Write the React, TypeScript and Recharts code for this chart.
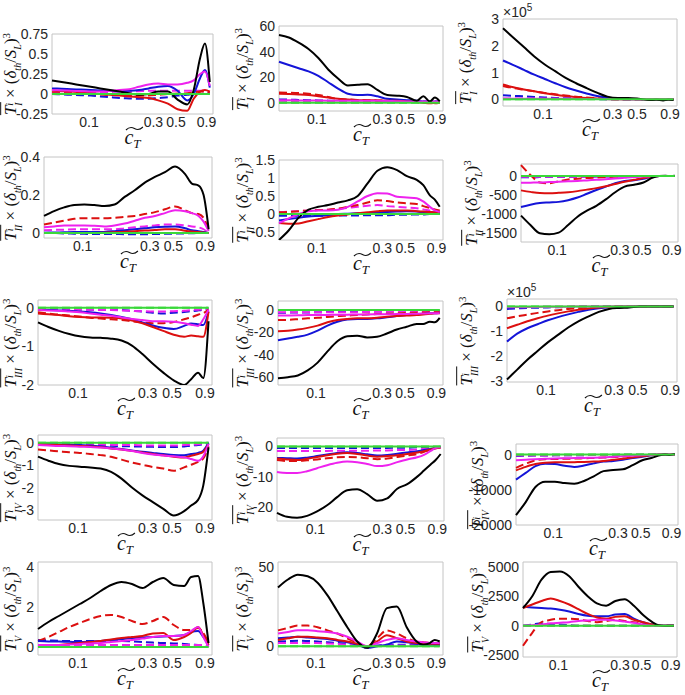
import React from "react";
import { LineChart, Line, XAxis, YAxis, ReferenceArea } from "recharts";

// position along the flame brush (0..1) and the c_T labels marked on it
const CT = [0, 0.06, 0.12, 0.18, 0.24, 0.3, 0.36, 0.42, 0.48, 0.54, 0.6, 0.66, 0.72, 0.78, 0.84, 0.88, 0.92, 0.95, 0.98];
const CT_TICKS = [0.23, 0.63, 0.77, 0.96];
const CT_LABELS = ["0.1", "0.3", "0.5", "0.9"];
const ZERO = [0, 0, 0, 0, 0, 0, 0, 0, 0, 0, 0, 0, 0, 0, 0, 0, 0, 0, 0];

// row I
const T1a = {
  k: [0.17, 0.15, 0.13, 0.11, 0.09, 0.07, 0.05, 0.03, 0.01, -0.01, 0, 0.03, 0.03, -0.07, -0.13, 0.05, 0.45, 0.63, 0.15],
  b: [0.07, 0.065, 0.06, 0.055, 0.05, 0.045, 0.04, 0.035, 0.04, 0.05, 0.07, 0.09, 0.1, 0.04, -0.08, 0, 0.2, 0.3, 0.08],
  r: [0.04, 0.035, 0.03, 0.02, 0.01, 0, -0.01, -0.02, -0.03, -0.04, -0.05, -0.08, -0.12, -0.19, -0.21, -0.06, 0.03, 0.05, 0.03],
  m: [0.05, 0.045, 0.04, 0.035, 0.03, 0.03, 0.04, 0.05, 0.06, 0.09, 0.12, 0.13, 0.12, 0.12, 0.14, 0.17, 0.25, 0.28, 0.1],
  rd: [0.01, 0.01, 0.005, 0, 0, -0.005, -0.01, -0.01, -0.015, -0.02, -0.02, -0.01, 0, 0.005, 0.01, 0.02, 0.03, 0.03, 0.02],
  bd: [0, -0.005, -0.01, -0.015, -0.02, -0.03, -0.04, -0.05, -0.055, -0.06, -0.06, -0.05, -0.04, -0.02, -0.01, 0, 0, 0.01, 0.01],
  md: [0.02, 0.02, 0.02, 0.02, 0.02, 0.02, 0.025, 0.03, 0.03, 0.035, 0.04, 0.04, 0.04, 0.04, 0.04, 0.04, 0.04, 0.04, 0.03],
};
const T1b = {
  k: [53, 51, 47, 42, 35, 26, 19, 13.5, 14, 14.5, 10, 6, 5.5, 4.5, 1.5, 5, 1, 4, 1],
  b: [32, 29.5, 27, 24.5, 21, 16, 11, 7, 6, 6.2, 5, 3, 2.5, 2, 1.5, 1, 1, 1, 1],
  r: [7, 6.8, 6.5, 6, 5, 4, 3, 2.5, 2, 2, 1.8, 1.5, 1.5, 1, 0.5, 0, -0.5, 0, 0.5],
  m: [2, 2, 1.8, 1.8, 1.7, 1.6, 1.5, 1.5, 1.5, 1.5, 1.5, 1.3, 1.2, 1, 1, 1, 1, 1, 1],
  rd: [8, 7.8, 7.5, 7, 6, 4.5, 3, 2.5, 2.2, 2, 1.8, 1.5, 1.2, 1, 0.8, 0.5, 0, -0.5, 0],
  bd: [2.5, 2.4, 2.2, 2, 1.8, 1.6, 1.5, 1.5, 1.5, 1.4, 1.3, 1.2, 1.1, 1, 1, 1, 1, 1, 1],
  md: [1.5, 1.4, 1.3, 1.2, 1.1, 1, 1, 1, 1, 1, 1, 1, 0.8, 0.8, 0.6, 0.5, 0.5, 0.5, 0.5],
};
const T1c = {
  k: [2.65, 2.3, 1.95, 1.6, 1.3, 1.05, 0.8, 0.6, 0.42, 0.25, 0.1, 0.05, 0.05, 0.02, -0.03, -0.02, -0.04, -0.02, -0.03],
  b: [1.45, 1.28, 1.1, 0.92, 0.76, 0.6, 0.45, 0.33, 0.22, 0.12, 0.06, 0.02, 0, 0, 0, 0, 0, 0, 0],
  r: [0.55, 0.45, 0.37, 0.3, 0.23, 0.17, 0.12, 0.08, 0.05, 0.03, 0.01, 0, 0, 0, 0, 0, 0, 0, 0],
  m: [0.02, 0.02, 0.02, 0.02, 0.02, 0.02, 0.02, 0.015, 0.01, 0.01, 0.005, 0, 0, 0, 0, 0, 0, 0, 0],
  rd: [0.5, 0.42, 0.36, 0.3, 0.24, 0.19, 0.14, 0.1, 0.07, 0.04, 0.02, 0, 0, 0, 0, 0, 0, 0, 0],
  bd: [0.15, 0.13, 0.11, 0.09, 0.07, 0.05, 0.04, 0.03, 0.02, 0.01, 0, 0, 0, 0, 0, 0, 0, 0, 0],
  md: [0.03, 0.03, 0.03, 0.03, 0.025, 0.02, 0.02, 0.015, 0.01, 0.01, 0.005, 0, 0, 0, 0, 0, 0, 0, 0],
};

// row II
const T2a = {
  k: [0.09, 0.115, 0.135, 0.148, 0.15, 0.147, 0.142, 0.15, 0.19, 0.225, 0.265, 0.295, 0.32, 0.35, 0.31, 0.26, 0.25, 0.2, 0.02],
  b: [0.002, 0.003, 0.004, 0.005, 0.005, 0.005, 0.006, 0.01, 0.015, 0.02, 0.025, 0.03, 0.033, 0.035, 0.025, 0.015, 0.01, 0.005, 0],
  r: [0, 0, 0, 0, 0, 0, 0.002, 0.004, 0.007, 0.01, 0.013, 0.016, 0.02, 0.02, 0.012, 0.008, 0.005, 0.003, 0],
  m: [0.03, 0.035, 0.04, 0.04, 0.04, 0.038, 0.035, 0.04, 0.05, 0.065, 0.08, 0.09, 0.105, 0.12, 0.115, 0.105, 0.09, 0.06, 0.01],
  rd: [0.045, 0.055, 0.065, 0.075, 0.078, 0.078, 0.078, 0.08, 0.085, 0.09, 0.1, 0.11, 0.125, 0.14, 0.12, 0.105, 0.1, 0.08, 0.01],
  bd: [0, 0, -0.002, -0.003, -0.004, -0.005, -0.005, -0.005, -0.006, -0.006, -0.006, -0.005, -0.004, -0.003, -0.002, -0.001, 0, 0, 0],
  md: [0.015, 0.017, 0.018, 0.02, 0.02, 0.02, 0.02, 0.02, 0.025, 0.03, 0.035, 0.04, 0.045, 0.045, 0.04, 0.035, 0.03, 0.02, 0],
};
const T2b = {
  k: [-0.72, -0.45, -0.1, 0.12, 0.2, 0.25, 0.32, 0.38, 0.5, 0.85, 1.2, 1.3, 1.22, 1.05, 0.95, 0.8, 0.52, 0.4, 0.2],
  b: [-0.18, -0.14, -0.1, -0.07, -0.05, -0.03, 0, 0.01, 0.02, 0.03, 0.05, 0.06, 0.07, 0.08, 0.07, 0.05, 0.04, 0.04, 0.04],
  r: [-0.25, -0.27, -0.26, -0.2, -0.14, -0.08, -0.04, -0.01, 0.02, 0.05, 0.08, 0.1, 0.1, 0.1, 0.08, 0.07, 0.06, 0.05, 0.05],
  m: [-0.25, -0.12, 0, 0.08, 0.1, 0.1, 0.12, 0.2, 0.35, 0.5, 0.58, 0.57, 0.48, 0.46, 0.44, 0.35, 0.2, 0.1, 0.06],
  rd: [0.05, 0.06, 0.08, 0.1, 0.11, 0.12, 0.15, 0.2, 0.25, 0.32, 0.38, 0.36, 0.32, 0.3, 0.28, 0.22, 0.17, 0.13, 0.1],
  bd: [-0.05, -0.05, -0.05, -0.05, -0.05, -0.05, -0.04, -0.04, -0.04, -0.03, -0.03, -0.03, -0.02, -0.02, -0.01, -0.01, 0, 0, 0],
  md: [0.05, 0.07, 0.08, 0.1, 0.11, 0.12, 0.14, 0.17, 0.2, 0.23, 0.25, 0.22, 0.2, 0.18, 0.16, 0.13, 0.1, 0.09, 0.08],
};
const T2c = {
  k: [-1050, -1300, -1520, -1545, -1500, -1300, -1080, -920, -790, -620, -430, -280, -230, -170, -40, 0, 10, 0, 10],
  b: [-820, -760, -715, -700, -685, -640, -570, -470, -370, -280, -190, -130, -110, -70, -10, 0, 0, 0, 0],
  r: [-380, -420, -450, -455, -445, -430, -400, -360, -320, -270, -210, -150, -100, -50, -10, 0, 0, 0, 0],
  m: [-180, -175, -170, -160, -150, -140, -130, -115, -100, -85, -65, -45, -25, -15, -5, 0, 0, 0, 0],
  rd: [290, 30, -170, -190, -140, -90, -70, -50, -40, -30, -20, -10, -5, 0, 0, 0, 0, 0, 0],
  bd: [-30, -30, -28, -26, -24, -22, -20, -18, -15, -12, -10, -8, -6, -4, -2, 0, 0, 0, 0],
  md: [-20, -20, -20, -20, -20, -20, -18, -16, -14, -12, -10, -8, -6, -4, -2, 0, 0, 0, 0],
};

// row III
const T3a = {
  k: [-0.38, -0.5, -0.6, -0.68, -0.74, -0.77, -0.78, -0.8, -0.85, -0.98, -1.2, -1.45, -1.68, -1.88, -2.0, -1.85, -1.68, -1.82, -0.35],
  b: [-0.05, -0.06, -0.07, -0.08, -0.1, -0.12, -0.15, -0.19, -0.24, -0.3, -0.38, -0.46, -0.52, -0.55, -0.47, -0.41, -0.43, -0.45, -0.1],
  r: [-0.15, -0.17, -0.19, -0.22, -0.24, -0.25, -0.25, -0.26, -0.28, -0.33, -0.4, -0.5, -0.6, -0.7, -0.75, -0.72, -0.74, -0.75, -0.1],
  m: [-0.05, -0.07, -0.08, -0.1, -0.12, -0.15, -0.18, -0.21, -0.25, -0.29, -0.32, -0.35, -0.35, -0.36, -0.4, -0.44, -0.47, -0.3, -0.05],
  rd: [-0.12, -0.15, -0.18, -0.2, -0.23, -0.26, -0.28, -0.3, -0.32, -0.35, -0.38, -0.4, -0.4, -0.37, -0.3, -0.25, -0.18, -0.14, -0.05],
  bd: [-0.02, -0.03, -0.03, -0.04, -0.04, -0.05, -0.05, -0.05, -0.06, -0.08, -0.1, -0.13, -0.15, -0.13, -0.11, -0.09, -0.07, -0.05, -0.02],
  md: [-0.02, -0.03, -0.04, -0.05, -0.05, -0.05, -0.06, -0.06, -0.07, -0.08, -0.09, -0.1, -0.1, -0.09, -0.08, -0.06, -0.05, -0.04, -0.02],
};
const T3b = {
  k: [-61, -60, -58.5, -54, -47, -37, -28, -23.5, -23, -24.5, -24, -21, -17.5, -15, -12.5, -12.5, -10.5, -11, -7],
  b: [-27, -25.5, -24, -22, -18.5, -14, -10.5, -8.5, -8, -8, -7.5, -6.5, -5.5, -4.5, -4, -3.5, -3, -3, -2.5],
  r: [-19, -18.5, -17.5, -16, -14, -11, -9, -8, -7.5, -7.5, -7, -6, -5.5, -5, -4.5, -4, -3.5, -3, -3],
  m: [-5, -4.9, -4.8, -4.6, -4.5, -4.4, -4.3, -4.2, -4.1, -4, -3.9, -3.8, -3.7, -3.5, -3.4, -3.2, -3, -3, -3],
  rd: [-9, -8.8, -8.2, -7.5, -7, -6.2, -5.5, -5, -4.5, -4, -3.7, -3.3, -3, -2.8, -2.5, -2.3, -2, -2, -2],
  bd: [-2.5, -2.4, -2.3, -2.2, -2, -1.9, -1.8, -1.7, -1.6, -1.5, -1.4, -1.3, -1.2, -1.1, -1, -1, -1, -1, -1],
  md: [-2, -2, -2, -2, -2, -2, -2, -2, -2, -1.8, -1.7, -1.5, -1.4, -1.3, -1.2, -1.1, -1, -1, -1],
};
const T3c = {
  k: [-2.95, -2.55, -2.15, -1.8, -1.45, -1.15, -0.85, -0.6, -0.4, -0.22, -0.1, -0.06, -0.04, 0, 0, 0, 0, 0, 0],
  b: [-1.42, -1.1, -0.88, -0.72, -0.56, -0.43, -0.32, -0.22, -0.13, -0.07, -0.03, -0.01, 0, 0, 0, 0, 0, 0, 0],
  r: [-0.88, -0.74, -0.6, -0.48, -0.37, -0.28, -0.2, -0.13, -0.08, -0.04, -0.02, 0, 0, 0, 0, 0, 0, 0, 0],
  m: [-0.02, -0.02, -0.02, -0.02, -0.015, -0.01, -0.01, -0.005, 0, 0, 0, 0, 0, 0, 0, 0, 0, 0, 0],
  rd: [-0.48, -0.4, -0.33, -0.26, -0.2, -0.15, -0.1, -0.07, -0.04, -0.02, -0.01, 0, 0, 0, 0, 0, 0, 0, 0],
  bd: [-0.1, -0.08, -0.06, -0.05, -0.04, -0.03, -0.02, -0.01, 0, 0, 0, 0, 0, 0, 0, 0, 0, 0, 0],
  md: [-0.03, -0.03, -0.03, -0.025, -0.02, -0.02, -0.015, -0.01, -0.005, 0, 0, 0, 0, 0, 0, 0, 0, 0, 0],
};

// row IV
const T4a = {
  k: [-0.62, -0.8, -0.95, -1.03, -1.07, -1.1, -1.15, -1.3, -1.6, -2.0, -2.35, -2.65, -2.95, -3.25, -3.05, -2.8, -2.55, -1.9, -0.2],
  b: [-0.03, -0.05, -0.07, -0.08, -0.1, -0.12, -0.16, -0.22, -0.28, -0.34, -0.4, -0.45, -0.5, -0.54, -0.55, -0.5, -0.45, -0.35, 0],
  r: [-0.05, -0.07, -0.1, -0.12, -0.14, -0.16, -0.2, -0.25, -0.3, -0.36, -0.43, -0.5, -0.56, -0.62, -0.66, -0.58, -0.5, -0.4, -0.05],
  m: [-0.1, -0.12, -0.14, -0.15, -0.17, -0.19, -0.21, -0.25, -0.3, -0.37, -0.45, -0.52, -0.57, -0.6, -0.65, -0.72, -0.8, -0.6, -0.05],
  rd: [-0.3, -0.34, -0.38, -0.42, -0.45, -0.5, -0.55, -0.62, -0.75, -0.88, -0.98, -1.08, -1.15, -1.25, -1.1, -0.98, -0.85, -0.7, -0.15],
  bd: [-0.05, -0.06, -0.07, -0.08, -0.09, -0.1, -0.12, -0.13, -0.15, -0.16, -0.17, -0.18, -0.19, -0.19, -0.16, -0.12, -0.1, -0.06, 0],
  md: [-0.02, -0.03, -0.04, -0.05, -0.06, -0.07, -0.08, -0.09, -0.1, -0.1, -0.11, -0.12, -0.12, -0.12, -0.1, -0.08, -0.06, -0.04, 0],
};
const T4b = {
  k: [-22, -23.3, -23.6, -23, -21.5, -19.5, -16.8, -14.5, -14.2, -15.8, -18, -17.2, -14, -12.5, -10, -8, -6, -4.5, -2.5],
  b: [-3.8, -3.9, -4, -3.7, -3.2, -2.7, -2.2, -1.9, -2.2, -2.6, -3, -2.8, -2.4, -2, -1.6, -1.2, -0.8, -0.5, -0.3],
  r: [-4, -4.3, -4.5, -4.1, -3.5, -2.9, -2.4, -2.2, -2.5, -3, -3.4, -3.2, -2.9, -2.5, -2, -1.6, -1, -0.6, -0.4],
  m: [-8.5, -8.8, -8.8, -8.2, -7.2, -6.2, -5.4, -5, -5.2, -5.8, -6.5, -6.2, -5.2, -4.3, -3.6, -2.8, -1.5, -0.5, -0.3],
  rd: [-4.5, -4.8, -4.8, -4.6, -4.3, -3.9, -3.6, -3.5, -3.6, -3.9, -4.2, -4, -3.5, -3, -2.5, -1.8, -1, -0.6, -0.4],
  bd: [-0.5, -0.5, -0.5, -0.5, -0.5, -0.5, -0.5, -0.5, -0.5, -0.5, -0.5, -0.5, -0.4, -0.4, -0.3, -0.3, -0.2, -0.2, -0.1],
  md: [-1.5, -1.5, -1.5, -1.5, -1.5, -1.5, -1.4, -1.4, -1.4, -1.4, -1.3, -1.3, -1.2, -1.2, -1, -0.8, -0.5, -0.4, -0.3],
};
const T4c = {
  k: [-17200, -13500, -9200, -7700, -7700, -8100, -8300, -7500, -6200, -4700, -4400, -4200, -3000, -1600, -900, -300, 0, -100, 200],
  b: [-7100, -5200, -3300, -2600, -2700, -3200, -3500, -3100, -2500, -2000, -1800, -1500, -1000, -600, -200, 0, 0, 0, 0],
  r: [-4500, -3500, -2700, -2300, -2200, -2200, -2150, -2100, -2000, -1800, -1500, -1200, -800, -500, -150, 0, 0, 0, 0],
  m: [-1600, -1450, -1300, -1200, -1100, -1050, -1000, -950, -900, -800, -650, -500, -350, -200, -50, 0, 0, 0, 0],
  rd: [-3800, -2600, -1600, -1300, -1250, -1200, -1150, -1050, -950, -850, -700, -550, -400, -250, -50, 0, 0, 0, 0],
  bd: [-400, -350, -300, -260, -230, -200, -180, -160, -140, -120, -100, -80, -60, -40, -20, 0, 0, 0, 0],
  md: [-300, -280, -260, -240, -220, -200, -180, -160, -140, -120, -100, -80, -60, -40, -20, 0, 0, 0, 0],
};

// row V
const T5a = {
  k: [0.9, 1.25, 1.55, 1.85, 2.15, 2.45, 2.8, 3.1, 3.25, 3.15, 2.95, 3.25, 3.45, 3.1, 3.05, 3.5, 3.55, 2.2, 0.2],
  b: [0.3, 0.28, 0.27, 0.26, 0.25, 0.27, 0.3, 0.35, 0.4, 0.45, 0.47, 0.5, 0.52, 0.55, 0.6, 0.75, 0.8, 0.5, 0.1],
  r: [0, 0.05, 0.1, 0.15, 0.2, 0.25, 0.3, 0.38, 0.45, 0.5, 0.55, 0.68, 0.7, 0.35, 0.5, 0.7, 1.0, 0.6, 0.1],
  m: [0.1, 0.1, 0.1, 0.12, 0.15, 0.18, 0.2, 0.25, 0.3, 0.35, 0.42, 0.5, 0.55, 0.55, 0.6, 0.8, 1.0, 0.5, 0],
  rd: [0.3, 0.5, 0.75, 1.0, 1.2, 1.4, 1.55, 1.6, 1.5, 1.3, 1.15, 1.3, 1.5, 1.1, 0.85, 0.85, 0.95, 0.7, 0.2],
  bd: [0.35, 0.33, 0.31, 0.3, 0.3, 0.3, 0.3, 0.3, 0.3, 0.28, 0.25, 0.22, 0.2, 0.18, 0.15, 0.12, 0.1, 0.08, 0.05],
  md: [0.1, 0.1, 0.1, 0.1, 0.1, 0.1, 0.1, 0.1, 0.1, 0.1, 0.1, 0.1, 0.1, 0.1, 0.1, 0.1, 0.1, 0.1, 0.05],
};
const T5b = {
  k: [37, 42, 45, 44, 40, 32, 22, 12, 3, -1, 8, 24, 25, 12, 3, 1, 2, 4, 3],
  b: [5, 5.5, 6, 5.5, 5, 4.5, 3.5, 2.5, 1, -1, 0, 1, 3, 2.5, 1.5, 1, 1, 1, 1],
  r: [4, 5, 6, 6, 5.5, 5, 4, 3, 1.5, 0, 3, 7, 5, 3, 2, 1.5, 1.5, 1.5, 1.5],
  m: [8, 9, 10, 10, 9.5, 9, 8, 6, 3, 0, 2, 4, 5, 4, 3, 2.5, 2, 2, 2],
  rd: [10, 11.5, 13, 13, 12, 10, 8, 5, 2, 0, 5, 10, 8, 5, 3, 2.5, 2, 2, 2],
  bd: [3, 3.2, 3.5, 3.3, 3, 2.5, 2, 1.5, 0.5, 0, 0.5, 1, 1, 1, 1, 1, 1, 1, 1],
  md: [2, 2, 2, 2, 2, 1.8, 1.5, 1, 0.5, 0, 0.3, 0.5, 0.5, 0.5, 0.5, 0.5, 0.5, 0.5, 0.5],
};
const T5c = {
  k: [1500, 2500, 3900, 4550, 4600, 4200, 3300, 2500, 1900, 1700, 2100, 2250, 1700, 900, 300, 50, 0, 0, 0],
  b: [1600, 1550, 1500, 1450, 1350, 1200, 1000, 850, 800, 800, 950, 1000, 600, 300, 100, 0, 0, 0, 0],
  r: [1500, 1800, 2100, 2300, 2100, 1800, 1400, 1000, 700, 600, 750, 800, 500, 300, 100, 0, 0, 0, 0],
  m: [0, 50, 100, 200, 250, 300, 400, 450, 500, 500, 450, 350, 250, 100, 0, 0, 0, 0, 0],
  rd: [-1700, -600, 300, 500, 600, 600, 550, 400, 300, 400, 500, 400, 300, 150, 0, 0, 0, 0, 0],
  bd: [0, 100, 200, 150, 100, 50, 0, 0, 0, 0, 0, 0, 0, 0, 0, 0, 0, 0, 0],
  md: [0, 0, 0, 0, 0, 0, 0, 0, 0, 0, 0, 0, 0, 0, 0, 0, 0, 0, 0],
};

const BLUE = "#1414d8";
const RED = "#dc1010";
const MAGENTA = "#ee22ee";
const GREEN = "#3ad83a";

const SERIES = [
  { key: "bd", color: BLUE, dash: "8 4" },
  { key: "md", color: MAGENTA, dash: "8 4" },
  { key: "rd", color: RED, dash: "8 4" },
  { key: "gd", color: GREEN, dash: "8 4" },
  { key: "b", color: BLUE },
  { key: "r", color: RED },
  { key: "m", color: MAGENTA },
  { key: "k", color: "#000000" },
  { key: "g", color: GREEN },
];

const PANELS = [
  { d: T1a, sub: "I", left: 52, top: 34, w: 161, h: 80, domain: [-0.25, 0.75], ticks: [-0.25, 0, 0.25, 0.5, 0.75], lx: 11 },
  { d: T1b, sub: "I", left: 279, top: 26, w: 164, h: 85, domain: [-6.5, 60], ticks: [0, 20, 40, 60], lx: 243 },
  { d: T1c, sub: "I", left: 503, top: 19, w: 174, h: 87, domain: [-0.25, 3], ticks: [0, 1, 2, 3], lx: 466, exp: true },
  { d: T2a, sub: "II", left: 44, top: 157, w: 168, h: 81, domain: [-0.026, 0.4], ticks: [0, 0.2, 0.4], lx: 11 },
  { d: T2b, sub: "II", left: 279, top: 160, w: 164, h: 80, domain: [-0.72, 1.5], ticks: [-0.5, 0, 0.5, 1, 1.5], lx: 243 },
  { d: T2c, sub: "II", left: 521, top: 164, w: 157, h: 78, domain: [-1750, 320], ticks: [-1500, -1000, -500, 0], lx: 472 },
  { d: T3a, sub: "III", left: 38, top: 300, w: 174, h: 85, domain: [-2, 0.2], ticks: [-2, -1, 0], lx: 11 },
  { d: T3b, sub: "III", left: 278, top: 301, w: 165, h: 84, domain: [-67, 8], ticks: [-60, -40, -20, 0], lx: 243 },
  { d: T3c, sub: "III", left: 507, top: 299, w: 170, h: 83, domain: [-3.05, 0.3], ticks: [-3, -2, -1, 0], lx: 467, exp: true },
  { d: T4a, sub: "IV", left: 38, top: 435, w: 174, h: 85, domain: [-3.45, 0.35], ticks: [-3, -2, -1, 0], lx: 11 },
  { d: T4b, sub: "IV", left: 277, top: 438, w: 167, h: 83, domain: [-24.7, 2.8], ticks: [-20, -10, 0], lx: 243 },
  { d: T4c, sub: "IV", left: 516, top: 444, w: 162, h: 81, domain: [-20000, 3000], ticks: [-20000, -10000, 0], lx: 478 },
  { d: T5a, sub: "V", left: 38, top: 562, w: 174, h: 93, domain: [-0.4, 4.25], ticks: [0, 2, 4], lx: 11 },
  { d: T5b, sub: "V", left: 278, top: 562, w: 165, h: 93, domain: [-5.5, 53], ticks: [0, 50], lx: 243 },
  { d: T5c, sub: "V", left: 523, top: 562, w: 154, h: 95, domain: [-2650, 5400], ticks: [-2500, 0, 2500, 5000], lx: 478 },
];

const TEXT = "#262626";
const TICK_FONT = { fill: TEXT, fontSize: 14, fontFamily: '"Liberation Sans", Arial, sans-serif' };
const AXW = 56;
const PADT = 8;
const PADR = 12;
const XAXH = 20;

function YLabel({ sub }: { sub: string }) {
  return (
    <span style={{ fontFamily: '"Liberation Serif", serif', fontSize: 17, whiteSpace: "nowrap", color: "#111" }}>
      <span style={{ display: "inline-block", borderTop: "1px solid #111", lineHeight: "17px", paddingTop: 1 }}>
        <i>T</i>
        <span style={{ display: "inline-block", verticalAlign: "-6px", lineHeight: "9px", fontSize: 10, fontStyle: "italic", textAlign: "left" }}>
          <span style={{ display: "block" }}>i</span>
          <span style={{ display: "block" }}>{sub}</span>
        </span>
      </span>
      {" × ("}
      <i>δ</i>
      <sub style={{ fontSize: 10 }}><i>th</i></sub>
      {"/"}
      <i>S</i>
      <sub style={{ fontSize: 10 }}><i>L</i></sub>
      {")"}
      <sup style={{ fontSize: 11 }}>3</sup>
    </span>
  );
}

function CLabel() {
  return (
    <span style={{ position: "relative", display: "inline-block", fontFamily: '"Liberation Serif", serif', color: "#111", lineHeight: "20px", fontSize: 20, fontStyle: "italic", whiteSpace: "nowrap" }}>
      <svg width={19} height={6} style={{ position: "absolute", left: 0, top: -1 }}>
        <path d="M1 4.5 Q5 0.5 9.5 3 T18 1.5" fill="none" stroke="#111" strokeWidth={1.1} />
      </svg>
      c<span style={{ fontSize: 13, position: "relative", top: 4 }}>T</span>
    </span>
  );
}

function Panel({ p }: { p: any }) {
  const rows = CT.map((x, i) => ({
    x,
    k: p.d.k[i],
    b: p.d.b[i],
    r: p.d.r[i],
    m: p.d.m[i],
    rd: p.d.rd[i],
    bd: p.d.bd[i],
    md: p.d.md[i],
    g: ZERO[i],
    gd: ZERO[i],
  }));
  const [lo, hi] = p.domain;
  return (
    <>
      <div style={{ position: "absolute", left: p.left - AXW, top: p.top - PADT }}>
        <LineChart
          width={AXW + p.w + PADR}
          height={PADT + p.h + XAXH}
          data={rows}
          margin={{ top: PADT, right: PADR, bottom: 0, left: 0 }}
        >
          <XAxis
            dataKey="x"
            type="number"
            domain={[0, 1]}
            ticks={CT_TICKS}
            interval={0}
            tickFormatter={(v: number) => CT_LABELS[CT_TICKS.indexOf(v)]}
            height={XAXH}
            tickLine={false}
            axisLine={false}
            tickSize={3}
            tickMargin={0}
            tick={TICK_FONT}
          />
          <YAxis
            type="number"
            domain={[lo, hi]}
            ticks={p.ticks}
            interval={0}
            allowDataOverflow
            width={AXW}
            tickLine={false}
            axisLine={false}
            tickSize={3}
            tickMargin={1}
            tick={TICK_FONT}
          />
          <ReferenceArea x1={0} x2={1} y1={lo} y2={hi} fill="none" stroke="#c4c4c4" strokeWidth={1} ifOverflow="visible" />
          {SERIES.map((s) => (
            <Line
              key={s.key}
              dataKey={s.key}
              type="monotone"
              stroke={s.color}
              strokeWidth={2}
              strokeDasharray={s.dash}
              dot={false}
              isAnimationActive={false}
            />
          ))}
        </LineChart>
      </div>
      <div
        style={{
          position: "absolute",
          left: p.left + p.w / 2,
          top: p.top + p.h + 24,
          transform: "translate(-50%, -50%)",
        }}
      >
        <CLabel />
      </div>
      <div
        style={{
          position: "absolute",
          left: p.lx,
          top: p.top + p.h / 2,
          transform: "translate(-50%, -50%) rotate(-90deg)",
        }}
      >
        <YLabel sub={p.sub} />
      </div>
      {p.exp && (
        <div
          style={{
            position: "absolute",
            left: p.left,
            top: p.top - 17,
            fontFamily: '"Liberation Sans", Arial, sans-serif',
            fontSize: 14,
            color: TEXT,
            whiteSpace: "nowrap",
          }}
        >
          ×10<sup style={{ fontSize: 10 }}>5</sup>
        </div>
      )}
    </>
  );
}

export default function App() {
  return (
    <div style={{ position: "absolute", left: 0, top: 0, width: 685, height: 695, background: "#ffffff", overflow: "hidden" }}>
      {PANELS.map((p, i) => (
        <Panel key={i} p={p} />
      ))}
    </div>
  );
}
